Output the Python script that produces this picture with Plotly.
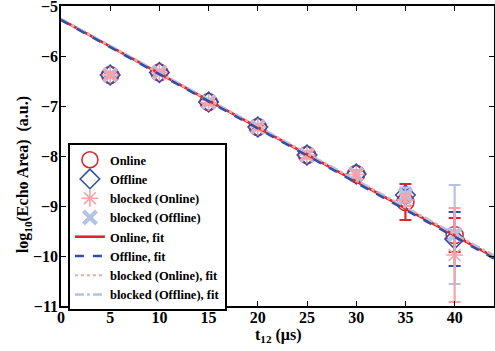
import plotly.graph_objects as go

# delays (us) and log10 echo areas
t_us = [5, 10, 15, 20, 25, 30, 35, 40]

online = [-6.38, -6.33, -6.92, -7.42, -7.98, -8.36, -8.92, -9.58]
online_err = [0.05, 0.05, 0.05, 0.05, 0.06, 0.08, 0.36, 0.34]

offline = [-6.38, -6.33, -6.92, -7.42, -7.98, -8.36, -8.78, -9.66]
offline_err = [0.04, 0.04, 0.05, 0.05, 0.06, 0.08, 0.10, 0.54]

blocked_online = [-6.38, -6.33, -6.93, -7.42, -7.98, -8.37, -8.88, -9.98]
blocked_online_err = [0.05, 0.05, 0.05, 0.06, 0.07, 0.09, 0.12, 0.94]

blocked_offline = [-6.38, -6.33, -6.92, -7.42, -7.98, -8.37, -8.78, -9.57]
blocked_offline_err = [0.05, 0.05, 0.05, 0.06, 0.07, 0.09, 0.15, 0.99]

# fitted straight lines, end points at t = 0 and t = 44
fit_t = [0, 44]
online_fit = [-5.27, -10.02]
offline_fit = [-5.28, -10.05]
blocked_online_fit = [-5.27, -10.00]
blocked_offline_fit = [-5.26, -9.99]

RED = "#e0262b"
BLUE = "#2f4fa6"
PINK = "#f4a3a6"
LIGHTBLUE = "#b3c3e3"

FONT = dict(family="Liberation Serif", color="black", weight="bold")

fig = go.Figure()


def err(vals, color):
    return dict(type="data", array=vals, visible=True, color=color, thickness=2.2, width=6)


fig.add_trace(go.Scatter(
    x=t_us, y=online, mode="markers", name="Online", legendrank=1,
    marker=dict(symbol="circle-open", size=17, color=RED, line=dict(width=1.6, color=RED)),
    error_y=err(online_err, RED),
))
fig.add_trace(go.Scatter(
    x=t_us, y=offline, mode="markers", name="Offline", legendrank=2,
    marker=dict(symbol="diamond-open", size=15, color=BLUE, line=dict(width=1.6, color=BLUE)),
    error_y=err(offline_err, BLUE),
))
fig.add_trace(go.Scatter(
    x=t_us, y=blocked_offline, mode="markers", name="blocked (Offline)", legendrank=4,
    marker=dict(symbol="x-thin-open", size=13, color=LIGHTBLUE, line=dict(width=4, color=LIGHTBLUE)),
    error_y=err(blocked_offline_err, LIGHTBLUE),
))
fig.add_trace(go.Scatter(
    x=t_us, y=blocked_online, mode="markers", name="blocked (Online)", legendrank=3,
    marker=dict(symbol="asterisk-open", size=14, color=PINK, line=dict(width=1.6, color=PINK)),
    error_y=err(blocked_online_err, PINK),
))

fig.add_trace(go.Scatter(
    x=fit_t, y=online_fit, mode="lines", name="Online, fit", legendrank=5,
    line=dict(color=RED, width=2.6),
))
fig.add_trace(go.Scatter(
    x=fit_t, y=blocked_offline_fit, mode="lines", name="blocked (Offline), fit", legendrank=8,
    line=dict(color=LIGHTBLUE, width=2.6, dash="dashdot"),
))
fig.add_trace(go.Scatter(
    x=fit_t, y=blocked_online_fit, mode="lines", name="blocked (Online), fit", legendrank=7,
    line=dict(color=PINK, width=2.0, dash="dot"),
))
fig.add_trace(go.Scatter(
    x=fit_t, y=offline_fit, mode="lines", name="Offline, fit", legendrank=6,
    line=dict(color=BLUE, width=2.6, dash="dash"),
))

axis_common = dict(
    showline=True, linecolor="black", linewidth=1.5, mirror="ticks",
    ticks="inside", ticklen=5, tickcolor="black", tickwidth=1,
    showgrid=False, zeroline=False, automargin=False,
    ticklabeloverflow="allow",
    tickfont=dict(size=16, **FONT),
)

fig.update_xaxes(
    range=[0, 44], tickvals=[0, 5, 10, 15, 20, 25, 30, 35, 40],
    ticklabelstandoff=-4,
    **axis_common,
)
fig.update_yaxes(
    range=[-11, -5], tickvals=[-11, -10, -9, -8, -7, -6, -5],
    ticklabelstandoff=-2,
    **axis_common,
)

# axis titles as annotations so they can sit where the original has them
fig.add_annotation(
    text="t<sub>12</sub> (μs)", xref="paper", yref="paper", x=0.5, y=-0.097,
    xanchor="center", yanchor="middle", showarrow=False, font=dict(size=16, **FONT),
)
fig.add_annotation(
    text="log<sub>10</sub>(Echo Area)  (a.u.)", xref="paper", yref="paper", x=-0.085, y=0.437,
    xanchor="center", yanchor="middle", textangle=-90, showarrow=False,
    font=dict(size=16, **FONT),
)

fig.update_layout(
    width=495, height=351,
    margin=dict(l=61, r=1, t=6, b=45),
    paper_bgcolor="white", plot_bgcolor="white",
    showlegend=True,
    legend=dict(
        x=0.016, y=0.543, xanchor="left", yanchor="top",
        bgcolor="white", bordercolor="black", borderwidth=2,
        font=dict(size=12.5, **FONT), tracegroupgap=0, itemwidth=30,
    ),
)

fig.write_html(
    "out.html",
    config={"displayModeBar": False},
    post_script="document.body.style.margin = '0';",
)
